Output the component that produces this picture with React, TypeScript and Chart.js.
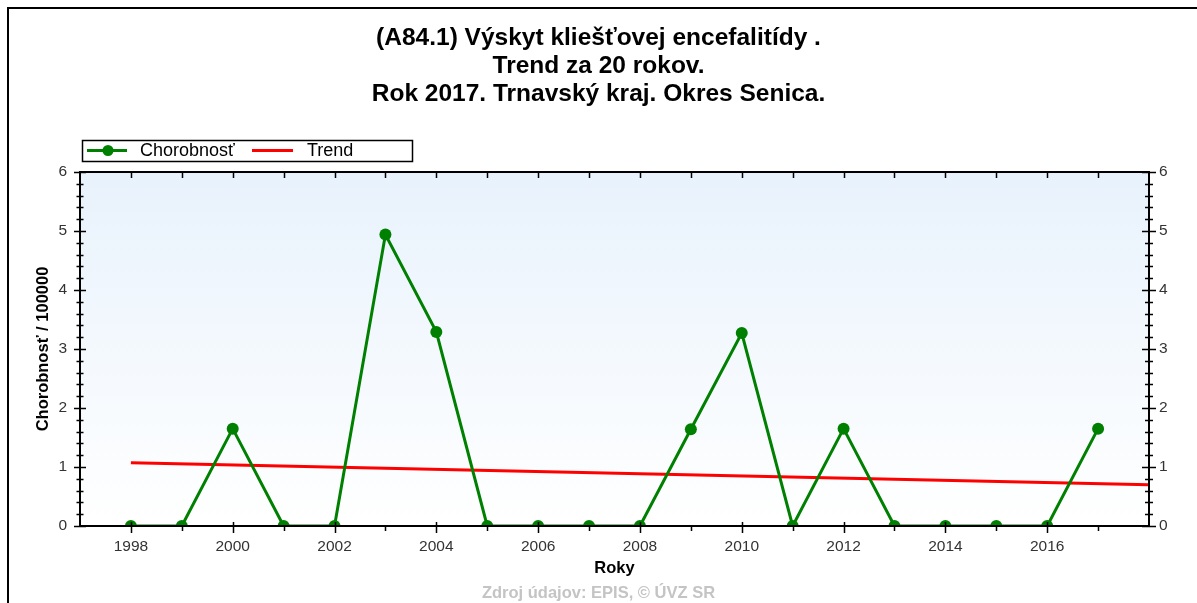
import React, { useEffect, useRef } from 'react';
import { Chart, registerables } from 'chart.js';

Chart.register(...registerables);

const FONT = '"Liberation Sans", Arial, sans-serif';

const titleLines = [
  '(A84.1) Výskyt kliešťovej encefalitídy .',
  'Trend za 20 rokov.',
  'Rok 2017. Trnavský kraj. Okres Senica.',
];
const seriesNames = ['Chorobnosť', 'Trend'];
const yAxisTitle = 'Chorobnosť / 100000';
const xAxisTitle = 'Roky';
const sourceText = 'Zdroj údajov: EPIS, © ÚVZ SR';

const years = [1998, 1999, 2000, 2001, 2002, 2003, 2004, 2005, 2006, 2007, 2008, 2009, 2010, 2011, 2012, 2013, 2014, 2015, 2016, 2017];
const chorobnost = [0, 0, 1.65, 0, 0, 4.94, 3.29, 0, 0, 0, 0, 1.64, 3.27, 0, 1.65, 0, 0, 0, 0, 1.65];
const trendYears = [1998, 2018];
const trendValues = [1.07, 0.7];
const xTickLabels = ['1998', '2000', '2002', '2004', '2006', '2008', '2010', '2012', '2014', '2016'];
const yTickLabels = ['0', '1', '2', '3', '4', '5', '6'];

const framePlugin = {
  id: 'pageFrame',
  beforeDraw(chart: any) {
    const { ctx } = chart;
    ctx.save();
    ctx.fillStyle = '#ffffff';
    ctx.fillRect(0, 0, chart.width, chart.height);
    ctx.fillStyle = '#000';
    ctx.fillRect(7, 7, chart.width - 7, 2);
    ctx.fillRect(7, 7, 2, chart.height - 7);
    ctx.restore();
  },
};

const plotBgPlugin = {
  id: 'plotBg',
  beforeDatasetsDraw(chart: any) {
    const { ctx, chartArea: a } = chart;
    const g = ctx.createLinearGradient(0, a.top, 0, a.bottom);
    g.addColorStop(0, '#e8f2fc');
    g.addColorStop(1, '#ffffff');
    ctx.save();
    ctx.fillStyle = g;
    ctx.fillRect(a.left, a.top, a.right - a.left, a.bottom - a.top);
    ctx.restore();
  },
};

const axesPlugin = {
  id: 'axesDraw',
  afterDatasetsDraw(chart: any) {
    const { ctx, chartArea: a, scales } = chart;
    const xs = scales.x;
    const ys = scales.y;
    ctx.save();
    ctx.strokeStyle = '#000';
    ctx.lineWidth = 2;
    ctx.strokeRect(a.left, a.top, a.right - a.left, a.bottom - a.top);
    ctx.lineWidth = 1.5;
    ctx.beginPath();
    for (let i = 0; i <= 30; i++) {
      const v = i * 0.2;
      const py = Math.round(ys.getPixelForValue(v)) + 0.5;
      const major = i % 5 === 0;
      const len = major ? 6 : 3.5;
      ctx.moveTo(a.left - len, py);
      ctx.lineTo(a.left + len, py);
      const lenR = major ? 7 : 4;
      ctx.moveTo(a.right - lenR, py);
      ctx.lineTo(a.right + lenR, py);
    }
    for (let yr = Math.ceil(xs.min) + 1; yr < xs.max; yr++) {
      const px = Math.round(xs.getPixelForValue(yr)) + 0.5;
      if (yr % 2 === 0) {
        ctx.moveTo(px, a.bottom - 4);
        ctx.lineTo(px, a.bottom + 7);
      } else {
        ctx.moveTo(px, a.bottom);
        ctx.lineTo(px, a.bottom + 5);
      }
      ctx.moveTo(px, a.top);
      ctx.lineTo(px, a.top + 6);
    }
    ctx.stroke();
    ctx.restore();
  },
};

const legendPlugin = {
  id: 'boxLegend',
  afterDraw(chart: any) {
    const { ctx } = chart;
    const ds = chart.data.datasets;
    ctx.save();
    ctx.fillStyle = '#ffffff';
    ctx.fillRect(82, 140, 330, 21);
    ctx.strokeStyle = '#000';
    ctx.lineWidth = 1.5;
    ctx.strokeRect(82.5, 140.5, 330, 21);
    const cy = 150.5;
    ctx.strokeStyle = ds[0].borderColor;
    ctx.lineWidth = 3;
    ctx.beginPath();
    ctx.moveTo(87, cy);
    ctx.lineTo(127, cy);
    ctx.stroke();
    ctx.fillStyle = ds[0].borderColor;
    ctx.beginPath();
    ctx.arc(108, cy, 5.5, 0, Math.PI * 2);
    ctx.fill();
    ctx.strokeStyle = ds[1].borderColor;
    ctx.beginPath();
    ctx.moveTo(252, cy);
    ctx.lineTo(293, cy);
    ctx.stroke();
    ctx.fillStyle = '#000';
    ctx.font = `18px ${FONT}`;
    ctx.textBaseline = 'middle';
    ctx.textAlign = 'left';
    ctx.fillText(ds[0].label, 140, cy + 1);
    ctx.fillText(ds[1].label, 307, cy + 1);
    ctx.restore();
  },
};

export default function App() {
  const canvasRef = useRef<HTMLCanvasElement | null>(null);

  useEffect(() => {
    if (!canvasRef.current) return;
    const chart = new Chart(canvasRef.current, {
      type: 'line',
      data: {
        datasets: [
          {
            label: seriesNames[0],
            data: years.map((x, i) => ({ x, y: chorobnost[i] })),
            borderColor: '#008000',
            backgroundColor: '#008000',
            borderWidth: 3,
            pointRadius: 6,
            pointBorderWidth: 0,
            pointBackgroundColor: '#008000',
            tension: 0,
            clip: 0,
          },
          {
            label: seriesNames[1],
            data: trendYears.map((x, i) => ({ x, y: trendValues[i] })),
            borderColor: '#ff0000',
            backgroundColor: '#ff0000',
            borderWidth: 3,
            pointRadius: 0,
            tension: 0,
            clip: 0,
          },
        ],
      },
      options: {
        responsive: false,
        animation: false,
        devicePixelRatio: 1,
        layout: { padding: 0 },
        events: [],
        plugins: {
          legend: { display: false },
          tooltip: { enabled: false },
          title: {
            display: true,
            text: titleLines,
            color: '#000',
            font: { family: FONT, size: 24.5, weight: 'bold', lineHeight: 1.143 },
            padding: { top: 24, bottom: 64 },
          },
          subtitle: {
            display: true,
            position: 'bottom',
            text: sourceText,
            color: '#c4c4c4',
            font: { family: FONT, size: 16.5, weight: 'bold', lineHeight: 1.1 },
            padding: 0,
          },
        },
        scales: {
          x: {
            type: 'linear',
            min: 1997,
            max: 2018,
            afterFit: (s: any) => {
              s.height = 58.85;
            },
            grid: { display: false, drawTicks: false },
            border: { display: false },
            ticks: {
              stepSize: 1,
              autoSkip: false,
              maxRotation: 0,
              padding: 11,
              color: '#333',
              font: { family: FONT, size: 15.5 },
              callback: (v: any) => (xTickLabels.includes(String(v)) ? String(v) : ''),
            },
            title: {
              display: true,
              text: xAxisTitle,
              color: '#000',
              font: { family: FONT, size: 16.5, weight: 'bold', lineHeight: 1.2 },
              padding: { top: 0, bottom: 6 },
            },
          },
          y: {
            position: 'left',
            min: 0,
            max: 6,
            afterFit: (s: any) => {
              s.width = 80;
            },
            grid: { display: false, drawTicks: false },
            border: { display: false },
            ticks: {
              stepSize: 1,
              padding: 13,
              color: '#333',
              font: { family: FONT, size: 15.5 },
              callback: (v: any) => yTickLabels[Number(v)] ?? '',
            },
            title: {
              display: true,
              text: yAxisTitle,
              color: '#000',
              font: { family: FONT, size: 16.5, weight: 'bold', lineHeight: 1.2 },
              padding: { top: 33.6, bottom: 0 },
            },
          },
          y2: {
            position: 'right',
            min: 0,
            max: 6,
            afterFit: (s: any) => {
              s.width = 48;
            },
            grid: { display: false, drawTicks: false },
            border: { display: false },
            ticks: {
              stepSize: 1,
              padding: 10,
              color: '#333',
              font: { family: FONT, size: 15.5 },
              callback: (v: any) => yTickLabels[Number(v)] ?? '',
            },
          },
        },
      } as any,
      plugins: [framePlugin, plotBgPlugin, axesPlugin, legendPlugin],
    });
    return () => chart.destroy();
  }, []);

  return (
    <canvas
      ref={canvasRef}
      width={1197}
      height={603}
      style={{ position: 'fixed', left: 0, top: 0, width: 1197, height: 603 }}
    />
  );
}
